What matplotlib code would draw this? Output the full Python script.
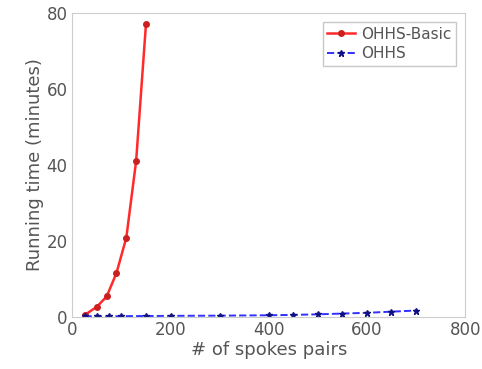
import matplotlib.pyplot as plt

# OHHS-Basic
basic_x = [25, 50, 70, 90, 110, 130, 150]
basic_y = [0.4, 2.6, 5.3, 11.5, 20.8, 41.0, 77.0]

# OHHS
ohhs_x = [25, 50, 75, 100, 150, 200, 300, 400, 450, 500, 550, 600, 650, 700]
ohhs_y = [0.1, 0.1, 0.1, 0.12, 0.15, 0.2, 0.25, 0.35, 0.45, 0.6, 0.8, 1.0, 1.3, 1.6]

xticks = [0, 200, 400, 600, 800]
yticks = [0, 20, 40, 60, 80]

text_color = "#555555"

fig = plt.figure(figsize=(4.82, 3.69), dpi=100)
ax = fig.add_axes([0.150, 0.142, 0.815, 0.823])

ax.plot(basic_x, basic_y, color="#ff2a2a", linewidth=1.8, marker="o",
        markersize=4, markerfacecolor="#cc2020", markeredgecolor="#cc2020",
        label="OHHS-Basic")
ax.plot(ohhs_x, ohhs_y, color="#3030ff", linewidth=1.4, linestyle="--",
        marker="*", markersize=5, markerfacecolor="#101080",
        markeredgecolor="#101080", label="OHHS")

ax.set_xlim(0, 800)
ax.set_ylim(0, 80)
ax.set_xticks(xticks)
ax.set_yticks(yticks)
ax.tick_params(labelsize=12, colors=text_color, length=0)
for s in ax.spines.values():
    s.set_color("#cccccc")

ax.set_xlabel("# of spokes pairs", fontsize=13, color=text_color, labelpad=1)
ax.set_ylabel("Running time (minutes)", fontsize=13, color=text_color, labelpad=2)

leg = ax.legend(loc="upper right", fontsize=11, frameon=True, fancybox=False,
                borderaxespad=0.6, handlelength=1.8, handletextpad=0.4,
                borderpad=0.3, labelspacing=0.3)
leg.get_frame().set_edgecolor("#bbbbbb")
for t in leg.get_texts():
    t.set_color(text_color)

plt.savefig("out.png", dpi=100)
